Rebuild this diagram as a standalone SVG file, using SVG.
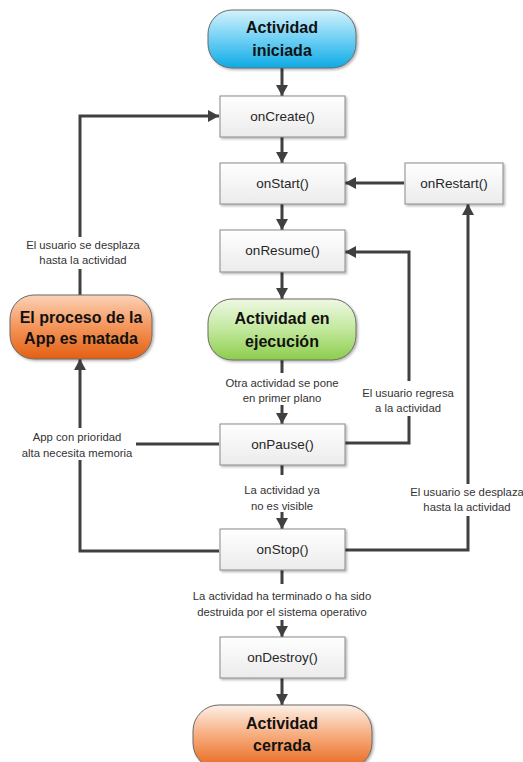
<svg xmlns="http://www.w3.org/2000/svg" width="523" height="762" viewBox="0 0 523 762">
<defs>
<linearGradient id="gBox" x1="0" y1="0" x2="0" y2="1"><stop offset="0" stop-color="#ffffff"/><stop offset="1" stop-color="#ebebeb"/></linearGradient>
<linearGradient id="gBlue" x1="0" y1="0" x2="0" y2="1"><stop offset="0" stop-color="#d4f2fc"/><stop offset="0.5" stop-color="#6fd0f4"/><stop offset="1" stop-color="#0eaae6"/></linearGradient>
<linearGradient id="gGreen" x1="0" y1="0" x2="0" y2="1"><stop offset="0" stop-color="#eef8e4"/><stop offset="0.5" stop-color="#c2e89c"/><stop offset="1" stop-color="#8ccd4c"/></linearGradient>
<linearGradient id="gOrange" x1="0" y1="0" x2="0" y2="1"><stop offset="0" stop-color="#fbd2b6"/><stop offset="0.5" stop-color="#f4955a"/><stop offset="1" stop-color="#e45f12"/></linearGradient>
<linearGradient id="gOrange2" x1="0" y1="0" x2="0" y2="1"><stop offset="0" stop-color="#fdf0e7"/><stop offset="0.5" stop-color="#f6a878"/><stop offset="1" stop-color="#e8671c"/></linearGradient>
<filter id="sh" x="-10%" y="-10%" width="130%" height="140%"><feDropShadow dx="1.5" dy="1.5" stdDeviation="1" flood-color="#000" flood-opacity="0.3"/></filter>
<marker id="ah" markerUnits="userSpaceOnUse" markerWidth="12" markerHeight="12" refX="11" refY="6" orient="auto"><path d="M0,0 L11,6 L0,12 z" fill="#404040"/></marker>
<style>
.box{fill:url(#gBox);stroke:#8a8a8a;stroke-width:1;filter:url(#sh)}
.term{stroke:#6a6a6a;stroke-width:1;filter:url(#sh)}
.bt{font-family:"Liberation Sans",Arial,sans-serif;font-size:13.5px;fill:#262626;text-anchor:middle}
.tt{font-family:"Liberation Sans",Arial,sans-serif;font-size:16px;font-weight:bold;fill:#111;text-anchor:middle}
.lb{font-family:"Liberation Sans",Arial,sans-serif;font-size:11.3px;fill:#333;text-anchor:middle}
.c{fill:none;stroke:#404040;stroke-width:3}
.a{marker-end:url(#ah)}
</style>
</defs>

<g id="connectors">
<path class="c a" d="M282,68 V96"/>
<path class="c a" d="M282,137 V163"/>
<path class="c a" d="M282,204 V230"/>
<path class="c a" d="M282,272 V299"/>
<path class="c" d="M282,360 V373"/>
<path class="c a" d="M282,405 V424"/>
<path class="c" d="M282,465 V475"/>
<path class="c a" d="M282,512 V529"/>
<path class="c" d="M282,570 V584"/>
<path class="c a" d="M282,620 V637"/>
<path class="c a" d="M282,678 V705"/>
<path class="c a" d="M404,183 H345"/>
<path class="c" d="M345,443 H409 V416"/>
<path class="c a" d="M409,381 V252 H345"/>
<path class="c" d="M345,550 H468 V516"/>
<path class="c a" d="M468,484 V204"/>
<path class="c" d="M219,444 H136"/>
<path class="c a" d="M80,428 V359"/>
<path class="c" d="M219,551 H80 V460"/>
<path class="c" d="M80,295 V269"/>
<path class="c a" d="M80,237 V116 H219"/>
</g>

<g id="n-iniciada">
<rect class="term" x="208" y="10" width="148" height="58" rx="24" fill="url(#gBlue)"/>
<text class="tt" x="282" y="33">Actividad</text>
<text class="tt" x="282" y="56">iniciada</text>
</g>
<g id="n-oncreate">
<rect class="box" x="220" y="96" width="125" height="41"/>
<text class="bt" x="282.5" y="121">onCreate()</text>
</g>
<g id="n-onstart">
<rect class="box" x="220" y="163" width="125" height="41"/>
<text class="bt" x="282.5" y="188">onStart()</text>
</g>
<g id="n-onrestart">
<rect class="box" x="405" y="163" width="98" height="41"/>
<text class="bt" x="454" y="188">onRestart()</text>
</g>
<g id="n-onresume">
<rect class="box" x="220" y="230" width="125" height="42"/>
<text class="bt" x="282.5" y="255">onResume()</text>
</g>
<g id="n-ejecucion">
<rect class="term" x="208" y="299" width="148" height="61" rx="24" fill="url(#gGreen)"/>
<text class="tt" x="282" y="324">Actividad en</text>
<text class="tt" x="282" y="347">ejecución</text>
</g>
<g id="n-proceso">
<rect class="term" x="10" y="295" width="142" height="64" rx="24" fill="url(#gOrange)"/>
<text class="tt" x="81" y="323" font-size="15.5">El proceso de la</text>
<text class="tt" x="81" y="344" font-size="15.5">App es matada</text>
</g>
<g id="n-onpause">
<rect class="box" x="220" y="424" width="125" height="41"/>
<text class="bt" x="282.5" y="449">onPause()</text>
</g>
<g id="n-onstop">
<rect class="box" x="220" y="529" width="125" height="41"/>
<text class="bt" x="282.5" y="554">onStop()</text>
</g>
<g id="n-ondestroy">
<rect class="box" x="220" y="637" width="125" height="41"/>
<text class="bt" x="282.5" y="662">onDestroy()</text>
</g>
<g id="n-cerrada">
<rect class="term" x="193" y="705" width="179" height="64" rx="26" fill="url(#gOrange2)"/>
<text class="tt" x="282" y="729">Actividad</text>
<text class="tt" x="282" y="751">cerrada</text>
</g>

<g id="labels">
<text class="lb" x="83" y="249">El usuario se desplaza</text>
<text class="lb" x="83" y="264">hasta la actividad</text>
<text class="lb" x="77" y="441">App con prioridad</text>
<text class="lb" x="77" y="457">alta necesita memoria</text>
<text class="lb" x="282" y="387">Otra actividad se pone</text>
<text class="lb" x="282" y="402">en primer plano</text>
<text class="lb" x="408" y="397">El usuario regresa</text>
<text class="lb" x="408" y="412">a la actividad</text>
<text class="lb" x="282" y="494">La actividad ya</text>
<text class="lb" x="282" y="510">no es visible</text>
<text class="lb" x="467" y="496">El usuario se desplaza</text>
<text class="lb" x="467" y="511">hasta la actividad</text>
<text class="lb" x="282" y="600">La actividad ha terminado o ha sido</text>
<text class="lb" x="282" y="616">destruida por el sistema operativo</text>
</g>
</svg>
